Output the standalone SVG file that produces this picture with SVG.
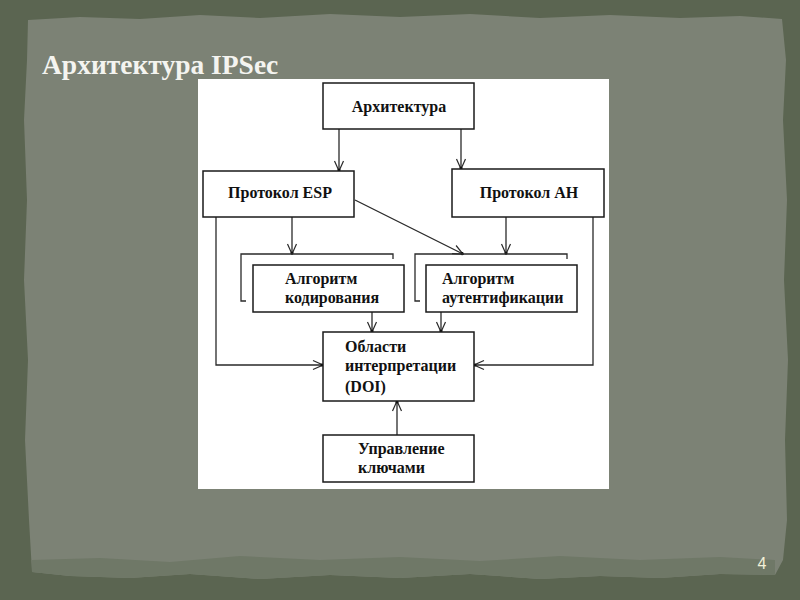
<svg xmlns="http://www.w3.org/2000/svg" width="800" height="600" viewBox="0 0 800 600">
<defs>
<style>
.box{fill:#fff;stroke:#1a1a1a;stroke-width:1.5}
.ln{fill:none;stroke:#2a2a2a;stroke-width:1.3}
.t{font-family:"Liberation Serif","Times New Roman",serif;font-weight:bold;font-size:16px;fill:#111}
.tc{text-anchor:middle}
</style>
<marker id="ah" viewBox="0 0 12 12" refX="11" refY="6" markerWidth="12" markerHeight="12" markerUnits="userSpaceOnUse" orient="auto">
<path d="M1,1.5 L11,6 L1,10.5" fill="none" stroke="#2a2a2a" stroke-width="1.2"/>
<circle cx="10" cy="6" r="1.6" fill="#111"/>
</marker>
</defs>
<rect x="0" y="0" width="800" height="600" fill="#5b6551"/>
<path d="M28,20 L80,17 L140,19 L200,15 L260,18 L330,14 L400,17 L470,14 L540,18 L610,15 L680,18 L740,16 L782,19 L786,60 L783,120 L787,200 L784,280 L788,360 L785,440 L787,520 L783,560 L775,575 L720,574 L660,578 L600,576 L540,579 L470,574 L400,578 L330,575 L260,579 L190,574 L130,578 L70,576 L32,572 L29,520 L25,440 L28,360 L24,280 L27,200 L24,120 L27,60 Z" fill="#7c8275"/>
<path d="M32,560 L100,558 L170,562 L240,556 L320,560 L400,557 L480,561 L560,556 L640,560 L720,557 L775,560 L775,575 L720,574 L660,578 L600,576 L540,579 L470,574 L400,578 L330,575 L260,579 L190,574 L130,578 L70,576 L32,572 Z" fill="#6f7867"/>
<text x="42" y="74" font-family="'Liberation Serif','Times New Roman',serif" font-weight="bold" font-size="27.5" fill="#f4f4f0">Архитектура IPSec</text>
<text x="762" y="569" font-family="'Liberation Sans',Arial,sans-serif" font-size="16" fill="#f2f0d8" text-anchor="middle">4</text>
<rect x="198" y="79" width="411" height="410" fill="#fff"/>
<g id="connectors">
<line class="ln" x1="339" y1="129" x2="339" y2="171" marker-end="url(#ah)"/>
<line class="ln" x1="461" y1="129" x2="461" y2="169" marker-end="url(#ah)"/>
<line class="ln" x1="292" y1="217" x2="292" y2="254" marker-end="url(#ah)"/>
<line class="ln" x1="506" y1="217" x2="506" y2="254" marker-end="url(#ah)"/>
<line class="ln" x1="355" y1="200" x2="463" y2="254" marker-end="url(#ah)"/>
<path class="ln" d="M393,259 L393,254 L241,254 L241,301 L246,301"/>
<path class="ln" d="M567,259 L567,254 L415,254 L415,301 L420,301"/>
<line class="ln" x1="372" y1="312" x2="372" y2="332" marker-end="url(#ah)"/>
<line class="ln" x1="441" y1="312" x2="441" y2="332" marker-end="url(#ah)"/>
<path class="ln" d="M216,217 L216,365 L323,365" marker-end="url(#ah)"/>
<path class="ln" d="M593,217 L593,365 L474,365" marker-end="url(#ah)"/>
<line class="ln" x1="397" y1="435" x2="397" y2="401" marker-end="url(#ah)"/>
</g>
<g id="arch"><rect class="box" x="323" y="83" width="151" height="46"/><text class="t tc" x="399" y="112">Архитектура</text></g>
<g id="esp"><rect class="box" x="203" y="171" width="151" height="46"/><text class="t tc" x="280" y="198">Протокол ESP</text></g>
<g id="ah-node"><rect class="box" x="452" y="169" width="152" height="48"/><text class="t tc" x="529" y="198">Протокол AH</text></g>
<g id="enc"><rect class="box" x="253" y="265" width="151" height="47"/><text class="t" x="285" y="284">Алгоритм</text><text class="t" x="285" y="303">кодирования</text></g>
<g id="auth"><rect class="box" x="426" y="265" width="151" height="47"/><text class="t" x="442" y="284">Алгоритм</text><text class="t" x="442" y="303">аутентификации</text></g>
<g id="doi"><rect class="box" x="323" y="332" width="151" height="69"/><text class="t" x="345" y="352">Области</text><text class="t" x="345" y="371">интерпретации</text><text class="t" x="345" y="392">(DOI)</text></g>
<g id="keys"><rect class="box" x="323" y="435" width="151" height="47"/><text class="t" x="358" y="454">Управление</text><text class="t" x="358" y="473">ключами</text></g>
</svg>
